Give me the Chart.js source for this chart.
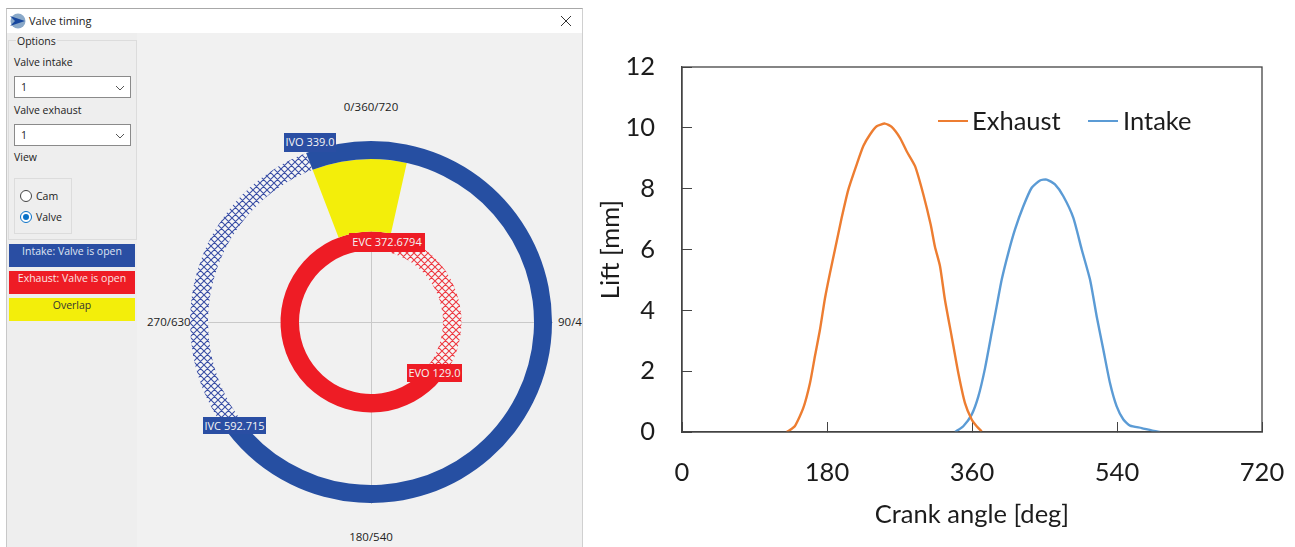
<!DOCTYPE html>
<html><head><meta charset="utf-8">
<script src="https://cdn.jsdelivr.net/npm/chart.js@4"></script>
<style>
html,body{margin:0;padding:0;background:#fff;width:1295px;height:547px;overflow:hidden}
#win{position:absolute;left:6px;top:8px;width:577px;height:539px;background:#f1f1f1;border-top:1px solid #a8a8a8;border-left:1px solid #c8c8c8;border-right:1px solid #d0d0d0;box-sizing:border-box;overflow:hidden;font-family:"Open Sans",sans-serif;font-size:10.5px;color:#222}
#bar{position:absolute;left:0;top:0;width:100%;height:24px;background:#fff}
#side{position:absolute;left:0;top:24px;width:130px;height:515px;background:#eeeeee}
.t{position:absolute;white-space:nowrap;line-height:14px}
.dial{font-size:11.5px}
.box{position:absolute;box-sizing:border-box}
.line{position:absolute;background:#c9c9c9}
.tag{position:absolute;color:#f4f4f4;text-align:center;white-space:nowrap;font-family:"Open Sans",sans-serif;font-size:11px;box-sizing:border-box;line-height:17px}
.combo{position:absolute;background:#fff;border:1px solid #8a8a8a;box-sizing:border-box;left:7px;width:117px;height:22px;padding:3px 6px;line-height:14px}
.bt{position:absolute;left:2px;width:126px;height:23px;text-align:center;line-height:15px}
canvas{position:absolute;display:block}
#ring{left:190px;top:141px}
#lift{left:590px;top:40px}
#legend{position:absolute;left:0;top:0;font-family:Lato,sans-serif;font-size:25.5px;color:#1c1c1c}
</style></head><body>
<div id="win">
 <div id="bar"></div>
 <svg class="box" style="left:3px;top:4px" width="16" height="16" viewBox="0 0 16 16"><circle cx="8" cy="8" r="7.5" fill="#8aa9c9"/><path d="M0 3 L15 8 L0 13 L5 8Z" fill="#17479e"/></svg>
 <div class="t" style="left:22px;top:5px;font-size:11px">Valve timing</div>
 <svg class="box" style="left:553px;top:6px" width="12" height="12"><path d="M1 1L11 11M11 1L1 11" stroke="#333" stroke-width="1"/></svg>
 <div id="side"></div>
 <div class="box" style="left:1px;top:31px;width:129px;height:200px;border:1px solid #dcdcdc"></div>
 <div class="t" style="left:9px;top:25px;background:#eee;padding:0 1px">Options</div>
 <div class="t" style="left:7px;top:46px">Valve intake</div>
 <div class="combo" style="top:67px">1<svg class="box" style="right:5px;top:8px" width="10" height="6"><path d="M1 1L5 5L9 1" fill="none" stroke="#555"/></svg></div>
 <div class="t" style="left:7px;top:94px">Valve exhaust</div>
 <div class="combo" style="top:115px">1<svg class="box" style="right:5px;top:8px" width="10" height="6"><path d="M1 1L5 5L9 1" fill="none" stroke="#555"/></svg></div>
 <div class="t" style="left:7px;top:141px">View</div>
 <div class="box" style="left:7px;top:169px;width:58px;height:56px;border:1px solid #dcdcdc"></div>
 <svg class="box" style="left:12px;top:180px" width="14" height="36"><circle cx="7" cy="7" r="5.5" fill="#fff" stroke="#444"/><circle cx="7" cy="28" r="5.5" fill="#fff" stroke="#0a72c8"/><circle cx="7" cy="28" r="3" fill="#0a72c8"/></svg>
 <div class="t" style="left:29px;top:180px">Cam</div>
 <div class="t" style="left:29px;top:201px">Valve</div>
 <div class="bt" style="top:235px;background:#2a4ea3;color:#dfe4f2">Intake: Valve is open</div>
 <div class="bt" style="top:262px;background:#ee1c25;color:#fbe3e3">Exhaust: Valve is open</div>
 <div class="bt" style="top:289px;background:#f3ee0a;color:#333">Overlap</div>
 <div class="line" style="left:183px;top:313px;width:363px;height:1px"></div>
 <div class="line" style="left:364px;top:132px;width:1px;height:363px"></div>
 <div class="t dial" style="left:334px;top:91px;width:60px;text-align:center">0/360/720</div>
 <div class="t dial" style="left:551px;top:306px">90/450</div>
 <div class="t dial" style="left:140px;top:306px">270/630</div>
 <div class="t dial" style="left:334px;top:521px;width:60px;text-align:center">180/540</div>
</div>
<canvas id="ring" width="362" height="362" style="width:362px;height:362px"></canvas>
<div class="tag" style="left:284px;top:133px;width:52px;height:19px;background:#2a4ea3">IVO 339.0</div>
<div class="tag" style="left:349px;top:233px;width:76px;height:19px;background:#ee1c25">EVC 372.6794</div>
<div class="tag" style="left:407px;top:364px;width:55px;height:18px;background:#ee1c25">EVO 129.0</div>
<div class="tag" style="left:203px;top:417px;width:63px;height:17px;background:#2a4ea3">IVC 592.715</div>
<canvas id="lift" width="705" height="507" style="width:705px;height:507px"></canvas>
<div id="legend"></div>
<script>
// --- valve timing events, crank degrees ---
const IVO = 339.0, IVC = 592.715, EVO = 129.0, EVC = 372.6794;
// --- lift curves: crank angle [deg], lift [mm] ---
const exhaustAngle = [130,140,150.6,158.9,165,171.3,177.5,183.7,189.9,198.2,206.5,216.8,225.1,233.4,241.7,252,260.3,270.6,278.9,289.3,299.6,308.7,314,320.3,326.4,334.7,343,351.3,359.6,365.8,372];
const exhaustLift  = [0,0.19,0.79,1.61,2.49,3.37,4.4,5.23,6.0,7.04,7.97,8.79,9.4,9.78,10.05,10.14,10.03,9.67,9.23,8.74,7.81,6.82,6.09,5.45,4.35,3.15,1.94,0.95,0.41,0.19,0.02];
const intakeAngle  = [339,349.2,359.6,367.9,376.2,384.4,390.6,396.9,405.1,413.4,423.7,434.1,444.4,452.7,463,473.4,485.8,496.2,506.5,514.8,523,531.3,539.6,547.9,556.2,570.7,583,593.3];
const intakeLift   = [0,0.19,0.57,1.17,2.1,3.26,4.13,5.01,5.89,6.66,7.42,8.03,8.27,8.3,8.14,7.75,7.04,6.0,5.01,3.8,2.71,1.61,0.84,0.41,0.21,0.13,0.05,0];
const seriesNames  = ['Exhaust','Intake'];
const seriesColors = ['#ed7d31','#5b9bd5'];
const xTicks = [0,180,360,540,720];
const yTicks = [0,2,4,6,8,10,12];

function hatch(color){
  const n=7,c=document.createElement('canvas');c.width=n;c.height=n;
  const g=c.getContext('2d');
  g.fillStyle='#f6f6f6';g.fillRect(0,0,n,n);
  g.strokeStyle=color;g.lineWidth=1.1;
  g.beginPath();
  g.moveTo(-1,-1);g.lineTo(n+1,n+1);g.moveTo(-1,n-1);g.lineTo(1,n+1);g.moveTo(n-1,-1);g.lineTo(n+1,1);
  g.moveTo(n+1,-1);g.lineTo(-1,n+1);g.moveTo(1,-1);g.lineTo(-1,1);g.moveTo(n+1,n-1);g.lineTo(n-1,n+1);
  g.stroke();
  return g.createPattern(c,'repeat');
}
const BLUE='#264fa2',RED='#ee1c25',YEL='#f3ee0a';
const ivcWrapped=IVC-360, evcWrapped=EVC-360;
new Chart(document.getElementById('ring'),{
  type:'doughnut',
  data:{labels:['a','b','c'],datasets:[
    {data:[ivcWrapped,IVO-ivcWrapped,360-IVO],backgroundColor:[BLUE,hatch('#3a4fa5'),BLUE],weight:18,borderWidth:0},
    {data:[evcWrapped,IVO-evcWrapped,360-IVO],backgroundColor:[YEL,'rgba(0,0,0,0)',YEL],weight:72.5,borderWidth:0},
    {data:[evcWrapped,EVO-evcWrapped,360-EVO],backgroundColor:[RED,hatch('#ee3a42'),RED],weight:18.5,borderWidth:0}
  ]},
  options:{responsive:false,animation:false,cutout:72,plugins:{legend:{display:false},tooltip:{enabled:false}},layout:{padding:0}}
});

const AXIS='#444444', TXT='#1c1c1c', FONT='Lato, sans-serif', FS=25.5;
const noPad=s=>{s.paddingLeft=s.paddingRight=s.paddingTop=s.paddingBottom=0;};
const frame={id:'frame',afterDraw(ch){const a=ch.chartArea,g=ch.ctx;g.save();g.strokeStyle=AXIS;g.lineWidth=1.3;g.strokeRect(a.left,a.top,a.right-a.left,a.bottom-a.top);g.restore();}};
const toXY=(xs,ys)=>xs.map((x,i)=>({x,y:ys[i]}));
new Chart(document.getElementById('lift'),{
  type:'scatter',
  data:{datasets:[
    {label:seriesNames[0],data:toXY(exhaustAngle,exhaustLift),showLine:true,borderColor:seriesColors[0],backgroundColor:seriesColors[0],borderWidth:2.4,pointRadius:0,tension:0.2},
    {label:seriesNames[1],data:toXY(intakeAngle,intakeLift),showLine:true,borderColor:seriesColors[1],backgroundColor:seriesColors[1],borderWidth:2.4,pointRadius:0,tension:0.2}
  ]},
  options:{responsive:false,animation:false,
    layout:{autoPadding:false,padding:{top:27,right:33,left:0,bottom:0}},
    plugins:{legend:{display:false},tooltip:{enabled:false}},
    scales:{
      x:{type:'linear',min:0,max:720,
        afterBuildTicks(s){s.ticks=xTicks.map(v=>({value:v}));},
        afterFit(s){s.height=115;noPad(s);},
        grid:{drawOnChartArea:false,tickLength:-10,color:AXIS,lineWidth:1},
        border:{color:AXIS,width:1.3},
        ticks:{padding:35,maxRotation:0,color:TXT,font:{family:FONT,size:FS}},
        title:{display:true,text:'Crank angle [deg]',color:TXT,font:{family:FONT,size:FS},padding:{top:0,bottom:17}}},
      y:{type:'linear',min:0,max:12,
        afterBuildTicks(s){s.ticks=yTicks.map(v=>({value:v}));},
        afterFit(s){s.width=92;noPad(s);},
        grid:{drawOnChartArea:false,tickLength:-10,color:AXIS,lineWidth:1},
        border:{color:AXIS,width:1.3},
        ticks:{padding:37,color:TXT,font:{family:FONT,size:FS}},
        title:{display:true,text:'Lift [mm]',color:TXT,font:{family:FONT,size:FS},padding:{top:5,bottom:0}}}
    }},
  plugins:[frame]
});
// legend, from the series lists
const lg=document.getElementById('legend');
const keys=[[938,972],[1088,1123]];
seriesNames.forEach((n,i)=>{
  const l=document.createElement('div');
  l.style.cssText=`position:absolute;left:${keys[i][0]}px;top:120px;width:30px;height:2.4px;background:${seriesColors[i]}`;
  const t=document.createElement('div');
  t.textContent=n;
  t.style.cssText=`position:absolute;left:${keys[i][1]}px;top:105px;line-height:30px;white-space:nowrap`;
  lg.append(l,t);
});
</script>
</body></html>
